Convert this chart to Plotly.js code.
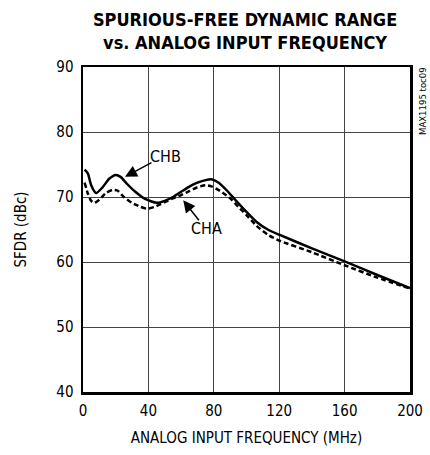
<!DOCTYPE html>
<html><head><meta charset="utf-8">
<script src="https://cdn.plot.ly/plotly-3.0.1.min.js"></script>
<style>html,body{margin:0;padding:0;background:#fff;}#chart{width:430px;height:455px;}</style>
</head><body><div id="chart"></div>
<script>
var chbFreq = [1, 3, 5, 8, 12, 16, 20, 23, 27, 32, 38, 45, 50, 55, 60, 65, 70, 75, 79, 83, 88, 93, 100, 106, 113, 120, 140, 160, 180, 200];
var chbSfdr = [74.2, 73.6, 71.8, 70.6, 71.5, 72.8, 73.4, 73.1, 72.0, 70.8, 69.7, 69.1, 69.4, 70.0, 70.8, 71.6, 72.2, 72.6, 72.7, 72.2, 71.0, 69.6, 67.7, 66.2, 65.0, 64.2, 62.1, 60.1, 58.0, 56.0];
var chaFreq = [1, 3, 5, 7, 10, 14, 18, 21, 25, 30, 35, 39, 44, 50, 55, 60, 65, 70, 75, 79, 84, 90, 95, 100, 106, 113, 120, 140, 160, 180, 200];
var chaSfdr = [72.2, 70.5, 69.4, 69.1, 69.6, 70.6, 71.1, 71.0, 70.0, 69.1, 68.5, 68.2, 68.5, 69.2, 69.8, 70.3, 70.9, 71.5, 71.8, 71.6, 70.9, 69.8, 68.5, 67.2, 65.6, 64.2, 63.3, 61.5, 59.5, 57.6, 55.9];
var xTicks = [0, 40, 80, 120, 160, 200];
var yTicks = [40, 50, 60, 70, 80, 90];

var FONT = '"DejaVu Sans Condensed", "Liberation Sans Narrow", Arial, sans-serif';

var traces = [
  {x: chaFreq, y: chaSfdr, mode: 'lines', name: 'CHA', line: {color: '#000', width: 2.5, dash: '5px,3px', shape: 'spline', smoothing: 0.6}},
  {x: chbFreq, y: chbSfdr, mode: 'lines', name: 'CHB', line: {color: '#000', width: 2.5, shape: 'spline', smoothing: 0.6}}
];

var layout = {
  width: 430, height: 455,
  margin: {l: 83, r: 20, t: 67, b: 63},
  paper_bgcolor: '#fff', plot_bgcolor: '#fff',
  showlegend: false,
  font: {family: FONT, color: '#000', size: 15},
  title: {
    text: 'SPURIOUS-FREE DYNAMIC RANGE<br>vs. ANALOG INPUT FREQUENCY',
    font: {family: FONT, size: 18, weight: 'bold', color: '#000'},
    x: 0.57, xanchor: 'center', y: 0.943, yanchor: 'middle', yref: 'container'
  },
  xaxis: {
    range: [0, 200], tickvals: xTicks, ticktext: xTicks.map(String),
    showgrid: true, gridcolor: '#444', gridwidth: 1,
    showline: true, linecolor: '#000', linewidth: 2.5, mirror: true,
    zeroline: false, ticks: '', ticklen: 0, ticklabelstandoff: 3,
    tickfont: {family: FONT, size: 15, color: '#000'},
    title: {text: 'ANALOG INPUT FREQUENCY (MHz)', font: {family: FONT, size: 15, color: '#000'}, standoff: 14}
  },
  yaxis: {
    range: [40, 90], tickvals: yTicks, ticktext: yTicks.map(String),
    showgrid: true, gridcolor: '#444', gridwidth: 1,
    showline: true, linecolor: '#000', linewidth: 2.5, mirror: true,
    zeroline: false, ticks: '', ticklen: 0, ticklabelstandoff: 4,
    tickfont: {family: FONT, size: 15, color: '#000'},
    title: {text: 'SFDR (dBc)', font: {family: FONT, size: 15, color: '#000'}, standoff: 26}
  },
  annotations: [
    {x: 50.2, y: 76.2, xref: 'x', yref: 'y', text: 'CHB', showarrow: false, font: {family: FONT, size: 16, color: '#000'}},
    {x: 25.7, y: 73.1, ax: 42.8, ay: 75.4, axref: 'x', ayref: 'y', xref: 'x', yref: 'y', text: '', showarrow: true, arrowhead: 2, arrowsize: 1.6, arrowwidth: 1.5, arrowcolor: '#000'},
    {x: 75.8, y: 65.1, xref: 'x', yref: 'y', text: 'CHA', showarrow: false, font: {family: FONT, size: 16, color: '#000'}},
    {x: 61.3, y: 69.5, ax: 71.6, ay: 66.2, axref: 'x', ayref: 'y', xref: 'x', yref: 'y', text: '', showarrow: true, arrowhead: 2, arrowsize: 1.6, arrowwidth: 1.5, arrowcolor: '#000'},
    {x: 1.0, y: 1.0, xref: 'paper', yref: 'paper', xshift: 12, yshift: 2, text: 'MAX1195 toc09', textangle: -90, showarrow: false, xanchor: 'center', yanchor: 'top', font: {family: FONT, size: 9.5, color: '#000'}}
  ]
};

Plotly.newPlot('chart', traces, layout, {displayModeBar: false, staticPlot: true});
</script>
</body></html>
